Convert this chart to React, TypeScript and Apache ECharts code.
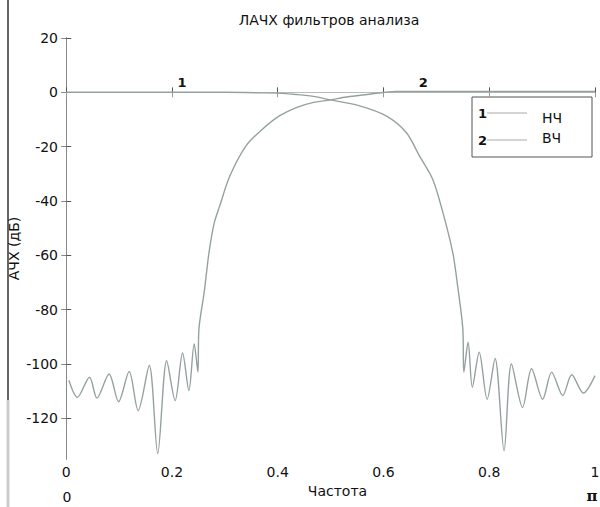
import React, { useEffect, useRef } from "react";
import * as echarts from "echarts";

// Normalised frequency (x π) and magnitude (dB)
const lpfFreq = [0, 0.1, 0.2, 0.3, 0.37, 0.41, 0.435, 0.47, 0.5, 0.555, 0.605, 0.643, 0.668, 0.693, 0.712, 0.731, 0.74, 0.75, 0.752, 0.76, 0.768, 0.781, 0.796, 0.811, 0.828, 0.842, 0.863, 0.88, 0.901, 0.918, 0.939, 0.956, 0.978, 1.0];
const lpfDb = [0, 0, 0, 0, -0.2, -0.4, -0.8, -1.6, -2.8, -5, -8.7, -14.8, -23.4, -32, -44, -59, -71, -87, -103, -92, -108.6, -95.7, -113, -98, -132, -100, -116, -101.8, -113, -103, -111.6, -104, -110.7, -104.3];

const hpfFreq = [0.005, 0.021, 0.044, 0.058, 0.081, 0.099, 0.119, 0.136, 0.157, 0.173, 0.19, 0.206, 0.22, 0.232, 0.242, 0.249, 0.251, 0.261, 0.27, 0.28, 0.29, 0.309, 0.34, 0.371, 0.403, 0.435, 0.466, 0.5, 0.53, 0.573, 0.624, 0.7, 0.8, 0.9, 1.0];
const hpfDb = [-106, -112.3, -104.9, -112.6, -103.7, -113.9, -102.8, -117.2, -100.6, -133, -98.8, -113.5, -96, -109.8, -92.6, -103, -87, -73.5, -59, -48, -42, -31, -19.7, -13.6, -8.7, -5.6, -3.8, -2.8, -1.7, -0.7, 0.3, 0.3, 0.3, 0.3, 0.3];

const xTicks = [0, 0.2, 0.4, 0.6, 0.8, 1];
const yTicks = [20, 0, -20, -40, -60, -80, -100, -120];
const curveLabels = [
  { name: "1", x: 0.219, y: 3.8 },
  { name: "2", x: 0.675, y: 3.8 },
];
const legendItems = ["НЧ", "ВЧ"];

const FONT = "DejaVu Sans, Arial, sans-serif";
const CURVE = "#95a1a1";

export default function App() {
  const ref = useRef<HTMLDivElement>(null);
  useEffect(() => {
    if (!ref.current) return;
    const chart = echarts.init(ref.current, null, { renderer: "svg" });
    const lp = lpfFreq.map((f, i) => [f, lpfDb[i]]);
    const hp = hpfFreq.map((f, i) => [f, hpfDb[i]]);
    const xMin = -0.008, xMax = 1, yMin = -135, yMax = 20;
    const baseX = {
      type: "value" as const,
      min: xMin,
      max: xMax,
      splitLine: { show: false },
    };
    const baseY = {
      type: "value" as const,
      min: yMin,
      max: yMax,
      splitLine: { show: false },
    };
    chart.setOption({
      animation: false,
      grid: { left: 62, right: 5, top: 38, bottom: 48, containLabel: false, outerBoundsMode: "none" },
      xAxis: [
        {
          ...baseX,
          position: "bottom",
          axisLine: { show: true, lineStyle: { color: "#555", width: 1 } },
          axisTick: { show: true, inside: true, length: 5, customValues: xTicks, lineStyle: { color: "#555" } },
          axisLabel: {
            customValues: xTicks,
            formatter: (v: number) => String(v),
            margin: 6,
            color: "#111",
            fontFamily: FONT,
            fontSize: 14,
          },
          name: "Частота",
          nameLocation: "middle",
          nameGap: 25,
          nameMoveOverlap: false,
          nameTextStyle: { color: "#111", fontFamily: FONT, fontSize: 14, padding: [0, 0, 0, 18] },
        },
        {
          ...baseX,
          position: "top",
          axisLine: { show: true, lineStyle: { color: "#bbb", width: 1 } },
          axisTick: { show: true, inside: true, length: 5, customValues: xTicks, lineStyle: { color: "#999" } },
          axisLabel: { show: false },
        },
      ],
      yAxis: [
        {
          ...baseY,
          position: "left",
          axisLine: { show: true, lineStyle: { color: "#444", width: 1 } },
          axisTick: { show: true, inside: true, length: 5, customValues: yTicks, lineStyle: { color: "#555" } },
          axisLabel: {
            customValues: yTicks,
            margin: 4,
            color: "#111",
            fontFamily: FONT,
            fontSize: 14,
          },
          name: "АЧХ (дБ)",
          nameLocation: "middle",
          nameGap: 41,
          nameMoveOverlap: false,
          nameTextStyle: { color: "#111", fontFamily: FONT, fontSize: 14 },
        },
        {
          ...baseY,
          position: "right",
          axisLine: { show: true, lineStyle: { color: "#888", width: 1 } },
          axisTick: { show: true, inside: true, length: 5, customValues: yTicks, lineStyle: { color: "#888" } },
          axisLabel: { show: false },
        },
      ],
      series: [
        {
          name: "НЧ",
          type: "line",
          data: lp,
          showSymbol: false,
          smooth: 0.3,
          lineStyle: { color: CURVE, width: 1.4 },
          markPoint: {
            symbol: "circle",
            symbolSize: 1,
            itemStyle: { color: "rgba(0,0,0,0)" },
            label: { show: true, position: "inside", color: "#111", fontFamily: FONT, fontSize: 13, fontWeight: "bold", formatter: curveLabels[0].name },
            data: [{ coord: [curveLabels[0].x, curveLabels[0].y] }],
          },
        },
        {
          name: "ВЧ",
          type: "line",
          data: hp,
          showSymbol: false,
          smooth: 0.3,
          lineStyle: { color: CURVE, width: 1.4 },
          markPoint: {
            symbol: "circle",
            symbolSize: 1,
            itemStyle: { color: "rgba(0,0,0,0)" },
            label: { show: true, position: "inside", color: "#111", fontFamily: FONT, fontSize: 13, fontWeight: "bold", formatter: curveLabels[1].name },
            data: [{ coord: [curveLabels[1].x, curveLabels[1].y] }],
          },
        },
      ],
      graphic: [
        { type: "line", shape: { x1: 8, y1: 0, x2: 8, y2: 400 }, style: { stroke: "#333", lineWidth: 1.5 } },
        { type: "line", shape: { x1: 8, y1: 400, x2: 8, y2: 507 }, style: { stroke: "#ccc", lineWidth: 3 } },
        {
          type: "text",
          x: 329,
          y: 20,
          style: { text: "ЛАЧХ фильтров анализа", fill: "#111", font: `14px ${FONT}`, textAlign: "center", textVerticalAlign: "middle" },
        },
        { type: "text", x: 67, y: 497, style: { text: "0", fill: "#111", font: `14px ${FONT}`, textAlign: "center", textVerticalAlign: "middle" } },
        { type: "text", x: 592, y: 496, style: { text: "π", fill: "#111", font: `bold 15px DejaVu Serif, serif`, textAlign: "center", textVerticalAlign: "middle" } },
        { type: "rect", shape: { x: 472, y: 97, width: 120, height: 60 }, style: { fill: "#fff", stroke: "#555", lineWidth: 1 } },
        { type: "text", x: 478, y: 113, style: { text: "1", fill: "#111", font: `bold 13px ${FONT}`, textAlign: "left", textVerticalAlign: "middle" } },
        { type: "line", shape: { x1: 487, y1: 113, x2: 527, y2: 113 }, style: { stroke: "#aaa", lineWidth: 1.2 } },
        { type: "text", x: 542, y: 118, style: { text: legendItems[0], fill: "#111", font: `14px ${FONT}`, textAlign: "left", textVerticalAlign: "middle" } },
        { type: "text", x: 478, y: 140, style: { text: "2", fill: "#111", font: `bold 13px ${FONT}`, textAlign: "left", textVerticalAlign: "middle" } },
        { type: "line", shape: { x1: 487, y1: 140, x2: 527, y2: 140 }, style: { stroke: "#aaa", lineWidth: 1.2 } },
        { type: "text", x: 542, y: 138, style: { text: legendItems[1], fill: "#111", font: `14px ${FONT}`, textAlign: "left", textVerticalAlign: "middle" } },
      ],
    });
    return () => chart.dispose();
  }, []);
  return (
    <div
      ref={ref}
      style={{ position: "absolute", left: 0, top: 0, width: 600, height: 507, overflow: "hidden" }}
    />
  );
}
